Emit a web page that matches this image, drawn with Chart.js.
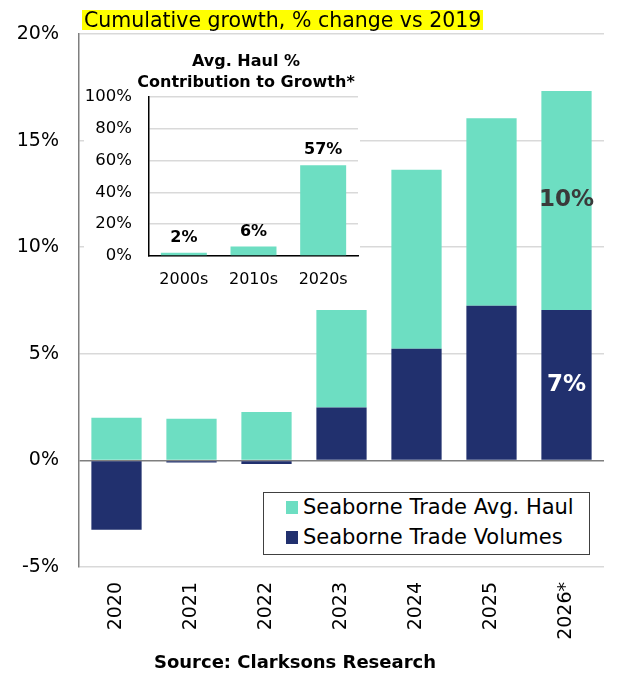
<!DOCTYPE html>
<html>
<head>
<meta charset="utf-8">
<script src="https://cdn.jsdelivr.net/npm/chart.js@4.4.1/dist/chart.umd.min.js"></script>
<style>
  body { margin: 0; background: #fff; }
  #wrap { position: relative; width: 622px; height: 683px; font-family: "DejaVu Sans", sans-serif; }
  #title { position: absolute; left: 82px; top: 10px; height: 20px; line-height: 20px; padding: 0 2px;
           background: #ffff00; font-size: 20.5px; color: #000; white-space: nowrap; }
  #inset { position: absolute; left: 84px; top: 44px; width: 276px; height: 250px; background: #fff; }
  #insetTitle { position: absolute; left: 106px; top: 50px; width: 280px; text-align: center;
                font-weight: bold; font-size: 16px; line-height: 21px; color: #000; }
  #legend { position: absolute; left: 263px; top: 492px; width: 325px; height: 61px;
            border: 1.5px solid #404040; background: #fff; }
  .item { position: absolute; left: 22px; font-size: 21px; line-height: 24px; color: #000; white-space: nowrap; }
  .item span { display: inline-block; width: 12px; height: 13px; margin-right: 5px; vertical-align: 0px; }
  #source { position: absolute; left: 0; top: 651px; width: 590px; text-align: center;
            font-weight: bold; font-size: 18px; color: #000; }
</style>
</head>
<body>
<div id="wrap">
  <canvas id="Growth" width="622" height="683"></canvas>
  <div id="title">Cumulative growth, % change vs 2019</div>
  <div id="inset"><canvas id="Haul" width="276" height="222" style="position:absolute;left:0;top:26px"></canvas></div>
  <div id="insetTitle">Avg. Haul %<br>Contribution to Growth*</div>
  <div id="legend"></div>
  <div id="source">Source: Clarksons Research</div>
</div>
<script>
var years = ["2020", "2021", "2022", "2023", "2024", "2025", "2026*"];
var volumes = [-3.25, -0.1, -0.17, 2.48, 5.24, 7.25, 7.06];
var avgHaul = [2.0, 1.95, 2.27, 4.58, 8.39, 8.8, 10.27];
var volumeLabels = ["", "", "", "", "", "", "7%"];
var haulLabels = ["", "", "", "", "", "", "10%"];

var decades = ["2000s", "2010s", "2020s"];
var haulShare = [2, 6, 57];

var teal = "#6ddec2";
var navy = "#21306e";
var fontName = "DejaVu Sans";

// writes the text of each bar in the middle of its segment
var barText = {
  id: "barText",
  afterDatasetsDraw: function(chart) {
    var ctx = chart.ctx;
    var lists = [volumeLabels, haulLabels];
    var colors = ["#ffffff", "#3a3a3a"];
    ctx.save();
    ctx.font = "bold 23px '" + fontName + "'";
    ctx.textAlign = "center";
    ctx.textBaseline = "middle";
    for (var d = 0; d < 2; d++) {
      var meta = chart.getDatasetMeta(d);
      meta.data.forEach(function(bar, i) {
        if (!lists[d][i]) return;
        ctx.fillStyle = colors[d];
        ctx.fillText(lists[d][i], bar.x, (bar.y + bar.base) / 2);
      });
    }
    ctx.restore();
  }
};

var topText = {
  id: "topText",
  afterDatasetsDraw: function(chart) {
    var ctx = chart.ctx;
    ctx.save();
    ctx.font = "bold 16px '" + fontName + "'";
    ctx.textAlign = "center";
    ctx.textBaseline = "middle";
    ctx.fillStyle = "#000";
    chart.getDatasetMeta(0).data.forEach(function(bar, i) {
      ctx.fillText(haulShare[i] + "%", bar.x, bar.y - 15);
    });
    ctx.restore();
  }
};

var Growth = new Chart(document.getElementById("Growth"), {
  type: "bar",
  data: {
    labels: years,
    datasets: [
      { label: "Seaborne Trade Volumes", data: volumes, backgroundColor: navy },
      { label: "Seaborne Trade Avg. Haul", data: avgHaul, backgroundColor: teal }
    ]
  },
  options: {
    responsive: false,
    animation: false,
    barPercentage: 0.67,
    categoryPercentage: 1,
    layout: { padding: { top: 34, right: 18, left: 0, bottom: 0 } },
    plugins: { legend: { display: false }, tooltip: { enabled: false } },
    scales: {
      x: {
        stacked: true,
        grid: { display: false },
        border: { display: false },
        ticks: { minRotation: 90, maxRotation: 90, autoSkip: false, padding: 7,
                 color: "#000", font: { family: fontName, size: 19 } },
        afterFit: function(scale) { scale.height = 116; }
      },
      y: {
        stacked: true,
        min: -5, max: 20,
        grid: {
          drawTicks: false,
          lineWidth: 1.5,
          color: function(c) { return c.tick.value === 0 ? "#7f7f7f" : "#d9d9d9"; }
        },
        border: { color: "#7f7f7f", width: 1.5 },
        ticks: { stepSize: 5, padding: 20, color: "#000",
                 font: { family: fontName, size: 19 },
                 callback: function(v) { return v + "%"; } },
        afterFit: function(scale) { scale.width = 79; }
      }
    }
  },
  plugins: [barText]
});

var Haul = new Chart(document.getElementById("Haul"), {
  type: "bar",
  data: {
    labels: decades,
    datasets: [{ data: haulShare, backgroundColor: teal }]
  },
  options: {
    responsive: false,
    animation: false,
    barPercentage: 0.66,
    categoryPercentage: 1,
    layout: { padding: { top: 0, right: 2, left: 0, bottom: 0 } },
    plugins: { legend: { display: false }, tooltip: { enabled: false } },
    scales: {
      x: {
        grid: { display: false },
        border: { color: "#000", width: 1.5 },
        ticks: { padding: 6, color: "#000", font: { family: fontName, size: 16 } },
        afterFit: function(scale) { scale.height = 36; }
      },
      y: {
        min: 0, max: 100,
        grid: { drawTicks: false, lineWidth: 1.5, color: "#d9d9d9" },
        border: { color: "#000", width: 1.5 },
        ticks: { stepSize: 20, padding: 17, color: "#000",
                 font: { family: fontName, size: 16.5 },
                 callback: function(v) { return v + "%"; } },
        afterFit: function(scale) { scale.width = 65; }
      }
    }
  },
  plugins: [topText]
});

// legend from the datasets, haul first
var legend = document.getElementById("legend");
Growth.data.datasets.slice().reverse().forEach(function(ds, i) {
  var row = document.createElement("div");
  row.className = "item";
  row.style.top = (2 + i * 30) + "px";
  row.innerHTML = '<span style="background:' + ds.backgroundColor + '"></span>' + ds.label;
  legend.appendChild(row);
});
</script>
</body>
</html>
